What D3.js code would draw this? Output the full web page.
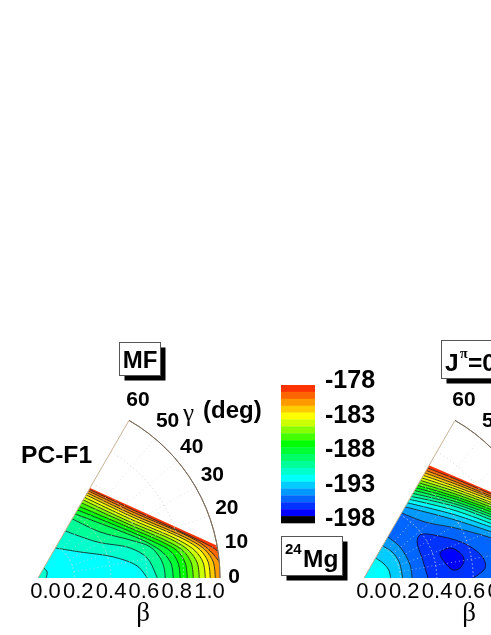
<!DOCTYPE html>
<html lang="en">
<head>
<meta charset="utf-8">
<title>24Mg energy surfaces</title>
<script src="https://d3js.org/d3.v7.min.js"></script>
<style>
  html, body { margin: 0; padding: 0; background: #fff; overflow: hidden; }
  svg { display: block; filter: blur(0.35px); }
  text { font-family: "Liberation Sans", Arial, sans-serif; fill: #000; }
  .bold { font-weight: bold; }
  .serif { font-family: "Liberation Serif", serif; }
</style>
</head>
<body>
<div id="chart"></div>
<script>
// colour bands of the energy scale, from -178 (top) down to -198
var bandColors = ["#ff3300","#ff6600","#ff9900","#ffcc00","#ffff00","#ccff00","#88ff00","#44ff00","#00ff00",
  "#00ff33","#00ff66","#00ff99","#00ffcc","#00ffff","#00ccff","#0099ff","#0066ff","#0033ff","#0000ff","#000000"];
var legendTicks = [-178,-183,-188,-193,-198];
var betaTicks = ["0.0","0.2","0.4","0.6","0.8","1.0"];
var gammaTicks = [0,10,20,30,40,50,60];

// contours, points are [100*beta*cos(gamma), 100*beta*sin(gamma)]
var mfLevels = [-178,-179,-180,-181,-182,-183,-184,-185,-186,-187,-188,-189,-190,-191];
var mfContours = [
  [[28.6,49.5],[101.2,16.5]],
  [[28.1,48.7],[50.6,38.2],[89.1,20.4],[96.3,16.5],[100.7,13.2]],
  [[27.6,47.9],[50.6,36.9],[86.4,20.9],[94.6,14.9],[100.1,8.3]],
  [[27,46.8],[50.6,35.5],[83.6,20.9],[91.9,15.4],[96.3,8.8],[97.4,0]],
  [[26.4,45.7],[50.6,34.1],[80.9,20.9],[89.1,15.4],[93.5,8.8],[94.6,0]],
  [[25.6,44.3],[50.6,32.5],[78.1,20.4],[86.4,14.9],[90.8,8.3],[91.9,0]],
  [[24.8,42.9],[50.6,30.8],[74.8,20.4],[83,14.9],[87.5,8.3],[88.6,0]],
  [[23.8,41.3],[50.6,29.2],[71.5,20],[79.8,14.9],[84.2,8.3],[85.3,0]],
  [[22.7,39.3],[50.6,27.5],[68.2,19.8],[76.5,14.9],[80.9,8.3],[82,0]],
  [[21.6,37.4],[50.6,25.6],[64.4,19.5],[72.6,14.9],[77,8.3],[78.1,0]],
  [[20.3,35.2],[50.6,23.7],[60.5,19.3],[68.8,13.8],[73.2,7.7],[74.3,0]],
  [[18.8,32.5],[34.1,25.3],[50.6,20.9],[61.6,17.1],[67.1,11],[69.3,5.5],[69.9,0]],
  [[14.9,25.9],[32.5,19.8],[50.6,16.5],[60,11],[64.4,2.8],[65.5,0]],
  [[9.5,16.5],[23.1,14.3],[41.3,11.6],[54.5,6.6],[60,0]]
];
// small region near beta=0 that goes back up
var mfPatchLevels = [-190];
var mfPatches = [
  [[3.2,5.5],[5,3.3],[4.4,0]]
];

var j0Levels = [-178,-179,-180,-181,-182,-183,-184,-185,-186,-187,-188,-189,-190,-191,-192,-193,-194];
var j0Contours = [
  [[35.7,61.9],[74.8,45.1]],
  [[34.9,60.5],[50,54.5],[74.8,44]],
  [[34.1,59.1],[50,53],[74.8,42.9]],
  [[33.3,57.8],[50,51.7],[74.8,42.1]],
  [[32.5,56.4],[50,50.3],[74.8,41]],
  [[31.8,55],[50,49],[74.8,39.6]],
  [[31,53.6],[50,47.6],[74.8,38.5]],
  [[30.2,52.3],[50,46.2],[74.8,37.1]],
  [[29.4,50.9],[50,44.8],[74.8,35.8]],
  [[28.6,49.5],[50,43.5],[74.8,34.4]],
  [[27.8,48.1],[50,42],[74.8,33]],
  [[26.8,46.5],[50,40.7],[74.8,31.6]],
  [[25.9,44.8],[50,39.3],[74.8,30]],
  [[24.9,43.2],[50,37.1],[74.8,28]],
  [[23.8,41.3],[50,34.7],[74.8,26.1]],
  [[22.5,39.1],[50,31.9],[74.8,23.7]],
  [[20.6,35.8],[33.5,30.8],[50,27.5],[69.9,22],[74.8,19.8]]
];
// lobes near beta=0 where the energy rises again
var j0PatchLevels = [-193,-192,-191];
var j0Patches = [
  [[13,22.6],[19.8,17],[25.3,7.2],[26.4,0]],
  [[10.2,17.6],[15.4,14.3],[19.3,8.8],[21.2,0]],
  [[6.3,11],[11,7.7],[13.8,3.9],[14.6,0]]
];
// minimum: one region sitting on gamma=0 and a closed one inside it
var j0Well = [[35.2,0],[31.9,11],[29.2,19.8],[30.8,23.7],[43.5,22.6],[56.7,18.2],[65.5,11],[66.6,5.5],[60,0]];
var j0Core = [[41.8,13.8],[47.3,16.5],[52.8,13.8],[55,9.9],[52.8,5.5],[49,4.4],[44.6,8.3]];

var W = 491, H = 635, R = 182;

var svg = d3.select("#chart").append("svg").attr("width", W).attr("height", H);

var xS = d3.scaleLinear().domain([0,100]).range([0,R]);
var yS = d3.scaleLinear().domain([0,100]).range([0,-R]);
var rS = d3.scaleLinear().domain([0,1]).range([0,R]);
var rad = function (deg) { return deg*Math.PI/180; };

var contourLine = d3.line().x(function (d) { return xS(d[0]); }).y(function (d) { return yS(d[1]); })
  .curve(d3.curveCatmullRom.alpha(0.5));
var contourLoop = d3.line().x(function (d) { return xS(d[0]); }).y(function (d) { return yS(d[1]); })
  .curve(d3.curveCatmullRomClosed.alpha(0.5));

function bandOf(level) { return bandColors[-178 - level]; }

// region below a contour: the contour, then down to gamma=0 and back to the apex
function regionPath(pts) {
  var last = pts[pts.length-1];
  return contourLine(pts) + "L" + xS(last[0]) + ",0L0,0Z";
}

function drawPanel(name, apexX, levels, contours, patchLevels, patches, well, core) {
  var g = svg.append("g").attr("transform", "translate(" + apexX + ",578)");

  svg.append("clipPath").attr("id", "clip-" + name).append("path")
    .attr("transform", "translate(" + apexX + ",578)")
    .attr("d", d3.arc()({innerRadius: 0, outerRadius: R, startAngle: rad(30), endAngle: rad(90)}));

  var inner = g.append("g").attr("clip-path", "url(#clip-" + name + ")")
    .attr("transform", "translate(" + (-apexX) + ",-578)")
    .append("g").attr("transform", "translate(" + apexX + ",578)");

  levels.forEach(function (lv, i) {
    inner.append("path").attr("d", regionPath(contours[i])).attr("fill", bandOf(lv));
  });
  patches.forEach(function (pts, i) {
    inner.append("path").attr("d", regionPath(pts)).attr("fill", bandOf(patchLevels[i]));
  });
  if (well) {
    inner.append("path").attr("d", contourLine(well) + "Z").attr("fill", bandColors[17]);
    inner.append("path").attr("d", contourLoop(core)).attr("fill", bandColors[18]);
  }

  // contour lines, the top one is only the edge of the filled area
  contours.concat(patches).forEach(function (pts, i) {
    if (i == 0) return;
    inner.append("path").attr("d", contourLine(pts)).attr("fill", "none")
      .attr("stroke", "#1a2a2a").attr("stroke-width", 0.9);
  });
  if (well) {
    inner.append("path").attr("d", contourLine(well)).attr("fill", "none").attr("stroke", "#101030").attr("stroke-width", 0.9);
    inner.append("path").attr("d", contourLoop(core)).attr("fill", "none").attr("stroke", "#101030").attr("stroke-width", 0.9);
  }

  // dotted polar grid
  [0.2,0.4,0.6,0.8].forEach(function (b) {
    g.append("path")
      .attr("d", d3.arc()({innerRadius: rS(b), outerRadius: rS(b), startAngle: rad(30), endAngle: rad(90)}))
      .attr("fill", "none").attr("stroke", "#d8d8d8").attr("stroke-width", 0.9).attr("stroke-dasharray", "1,3")
      .attr("opacity", 0.75);
  });
  [10,20,30,40,50].forEach(function (gam) {
    g.append("path")
      .attr("d", d3.lineRadial()([[rad(90-gam), rS(0.2)], [rad(90-gam), rS(1)]]))
      .attr("fill", "none").attr("stroke", "#d8d8d8").attr("stroke-width", 0.9).attr("stroke-dasharray", "1,3")
      .attr("opacity", 0.75);
  });

  // wedge outline
  g.append("path").attr("d", d3.lineRadial()([[rad(30), 0], [rad(30), R]]))
    .attr("fill", "none").attr("stroke", "#c9b296").attr("stroke-width", 1);
  g.append("path")
    .attr("d", d3.arc()({innerRadius: R, outerRadius: R, startAngle: rad(30), endAngle: rad(90)}))
    .attr("fill", "none").attr("stroke", "#7f6f5f").attr("stroke-width", 1);

  // gamma ticks, those past the window edge are not drawn
  var gammaR = [196,202,202,203,203,205,205];
  gammaTicks.forEach(function (gam, i) {
    var a = rad(gam + 0.8);
    var tx = gammaR[i]*Math.cos(a);
    if (apexX + tx - 13 > W) return;
    g.append("text").attr("class", "bold").attr("font-size", 21).attr("text-anchor", "middle")
      .attr("x", tx).attr("y", -gammaR[i]*Math.sin(a)).attr("dy", "0.35em").text(gam);
  });

  // beta ticks are squeezed closer than the grid
  var betaLabel = d3.scaleLinear().domain([0,5]).range([7.5,171.5]);
  betaTicks.forEach(function (t, i) {
    if (apexX + betaLabel(i) - 15 > W) return;
    g.append("text").attr("font-size", 22).attr("text-anchor", "middle")
      .attr("x", betaLabel(i)).attr("y", 20).text(t);
  });
  g.append("text").attr("class", "serif").attr("font-size", 27).attr("text-anchor", "middle")
    .attr("x", 105).attr("y", 43).text("β");
}

function shadowBox(x, y, w, h) {
  svg.append("rect").attr("x", x+5).attr("y", y+5).attr("width", w).attr("height", h).attr("fill", "#000");
  svg.append("rect").attr("x", x).attr("y", y).attr("width", w).attr("height", h)
    .attr("fill", "#fff").attr("stroke", "#555").attr("stroke-width", 1);
}

drawPanel("mf", 38, mfLevels, mfContours, mfPatchLevels, mfPatches);
drawPanel("j0", 364, j0Levels, j0Contours, j0PatchLevels, j0Patches, j0Well, j0Core);

// panel captions
shadowBox(119.5, 342.5, 41, 33);
svg.append("text").attr("class", "bold").attr("font-size", 24).attr("text-anchor", "middle")
  .attr("x", 140).attr("y", 368).text("MF");

svg.append("text").attr("class", "bold").attr("font-size", 24.6).attr("x", 21).attr("y", 463).text("PC-F1");

svg.append("text").attr("class", "serif").attr("font-size", 25).attr("x", 183).attr("y", 421).text("γ");
svg.append("text").attr("class", "bold").attr("font-size", 24).attr("x", 203).attr("y", 418).text("(deg)");

shadowBox(441.5, 340.5, 90, 38);
svg.append("text").attr("class", "bold").attr("font-size", 24.5).attr("x", 445).attr("y", 371).text("J");
svg.append("text").attr("class", "serif bold").attr("font-size", 14).attr("x", 460).attr("y", 358).text("π");
svg.append("text").attr("class", "bold").attr("font-size", 24.5).attr("x", 468).attr("y", 371).text("=0+");

// colour scale
var legendY = d3.scaleLinear().domain([-198,-178]).range([523,385]);
var legendBands = d3.range(-178, -198, -1);
svg.append("g").selectAll("rect").data(legendBands).enter().append("rect")
  .attr("x", 281).attr("width", 34)
  .attr("y", function (d) { return legendY(d); })
  .attr("height", function (d) { return legendY(d-1) - legendY(d) + 0.3; })
  .attr("fill", function (d) { return bandOf(d); });
svg.append("g").selectAll("text").data(legendTicks).enter().append("text")
  .attr("class", "bold").attr("font-size", 25).attr("x", 325)
  .attr("y", function (d) { return legendY(d) + 3; })
  .text(function (d) { return d; });

shadowBox(281.5, 536.5, 61, 39);
svg.append("text").attr("class", "bold").attr("font-size", 15).attr("x", 285).attr("y", 554).text("24");
svg.append("text").attr("class", "bold").attr("font-size", 24.5).attr("x", 303).attr("y", 567).text("Mg");
</script>
</body>
</html>
